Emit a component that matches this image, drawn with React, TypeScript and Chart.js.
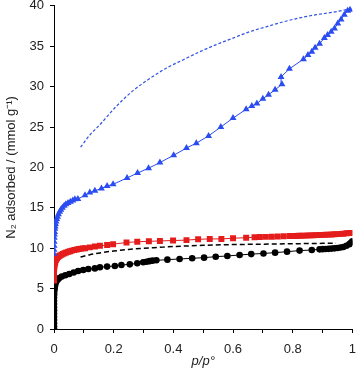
import React, { useEffect, useRef } from "react";
import { Chart, registerables } from "chart.js";

Chart.register(...registerables);

// Black circles series
const blackX = [0, 0, 0, 0, 0, 0, 0, 0, 0, 0, 0, 0.0005, 0.001, 0.002, 0.003, 0.005, 0.008, 0.012, 0.018, 0.026, 0.038, 0.051, 0.066, 0.081, 0.098, 0.115, 0.137, 0.154, 0.178, 0.204, 0.226, 0.254, 0.279, 0.299, 0.31, 0.32, 0.33, 0.343, 0.38, 0.421, 0.463, 0.503, 0.542, 0.581, 0.622, 0.661, 0.702, 0.741, 0.781, 0.823, 0.864, 0.89, 0.9, 0.91, 0.92, 0.93, 0.94, 0.95, 0.96, 0.97, 0.98, 0.99, 0.996, 1.0];
const blackY = [0, 0.3, 0.7, 1.1, 1.5, 1.9, 2.3, 2.7, 3.1, 3.5, 3.9, 4.3, 4.7, 5.0, 5.3, 5.6, 5.9, 6.1, 6.3, 6.5, 6.65, 6.8, 7.0, 7.18, 7.3, 7.43, 7.5, 7.64, 7.72, 7.8, 7.93, 8.0, 8.13, 8.26, 8.33, 8.4, 8.46, 8.5, 8.58, 8.67, 8.75, 8.83, 8.95, 9.04, 9.16, 9.27, 9.35, 9.45, 9.57, 9.7, 9.78, 9.86, 9.88, 9.9, 9.92, 9.95, 9.98, 10.02, 10.08, 10.15, 10.3, 10.5, 10.7, 10.85];

// Red squares series
const redX = [0, 0, 0, 0.0005, 0.001, 0.002, 0.003, 0.004, 0.006, 0.008, 0.01, 0.013, 0.016, 0.02, 0.025, 0.03, 0.035, 0.041, 0.048, 0.054, 0.06, 0.068, 0.076, 0.083, 0.09, 0.097, 0.104, 0.12, 0.137, 0.154, 0.178, 0.198, 0.243, 0.279, 0.318, 0.355, 0.399, 0.444, 0.483, 0.522, 0.561, 0.6, 0.644, 0.672, 0.69, 0.71, 0.73, 0.75, 0.77, 0.79, 0.8, 0.81, 0.82, 0.83, 0.84, 0.85, 0.86, 0.87, 0.88, 0.89, 0.9, 0.91, 0.92, 0.93, 0.94, 0.95, 0.96, 0.97, 0.98, 0.99, 0.998];
const redY = [6.0, 6.5, 7.0, 7.4, 7.7, 7.95, 8.15, 8.3, 8.5, 8.65, 8.78, 8.9, 9.0, 9.1, 9.2, 9.3, 9.38, 9.47, 9.55, 9.62, 9.7, 9.78, 9.85, 9.9, 9.95, 9.98, 10.0, 10.1, 10.2, 10.3, 10.4, 10.5, 10.7, 10.8, 10.85, 10.9, 10.95, 11.0, 11.1, 11.15, 11.15, 11.23, 11.3, 11.36, 11.38, 11.4, 11.42, 11.45, 11.48, 11.5, 11.51, 11.52, 11.53, 11.55, 11.56, 11.58, 11.59, 11.6, 11.62, 11.63, 11.65, 11.66, 11.68, 11.7, 11.72, 11.74, 11.77, 11.8, 11.84, 11.87, 11.9];

// Blue triangles series
const blueX = [0, 0, 0.0003, 0.0006, 0.001, 0.0015, 0.002, 0.003, 0.004, 0.005, 0.007, 0.009, 0.012, 0.015, 0.019, 0.023, 0.028, 0.034, 0.04, 0.047, 0.055, 0.063, 0.07, 0.08, 0.104, 0.12, 0.137, 0.159, 0.178, 0.198, 0.245, 0.28, 0.317, 0.355, 0.401, 0.444, 0.477, 0.518, 0.559, 0.6, 0.644, 0.663, 0.68, 0.7, 0.719, 0.741, 0.764, 0.761, 0.789, 0.836, 0.851, 0.864, 0.875, 0.89, 0.906, 0.917, 0.929, 0.94, 0.951, 0.962, 0.973, 0.984, 0.992];
const blueY = [9.3, 9.8, 10.3, 10.8, 11.3, 11.7, 12.0, 12.4, 12.7, 13.0, 13.3, 13.6, 13.9, 14.2, 14.5, 14.75, 15.0, 15.25, 15.45, 15.6, 15.75, 15.9, 16.06, 16.1, 16.55, 16.9, 17.1, 17.4, 17.7, 17.9, 18.7, 19.3, 19.9, 20.6, 21.5, 22.4, 23.0, 23.9, 25.0, 26.1, 27.2, 27.6, 27.9, 28.5, 29.0, 29.6, 30.3, 31.2, 32.2, 33.4, 33.9, 34.3, 34.8, 35.3, 36.0, 36.4, 36.8, 37.2, 37.8, 38.3, 38.9, 39.4, 39.5];

// Blue dashed curve
const blueDashX = [0.089, 0.12, 0.154, 0.21, 0.265, 0.321, 0.377, 0.432, 0.488, 0.544, 0.6, 0.656, 0.711, 0.767, 0.823, 0.879, 0.934, 0.99];
const blueDashY = [22.5, 24.0, 25.3, 27.6, 29.5, 31.0, 32.3, 33.3, 34.3, 35.2, 36.0, 36.8, 37.4, 38.0, 38.5, 38.9, 39.2, 39.6];

// Black dashed curve
const blackDashX = [0.089, 0.12, 0.16, 0.2, 0.25, 0.3, 0.35, 0.4, 0.5, 0.6, 0.7, 0.8, 0.9, 0.945];
const blackDashY = [8.9, 9.2, 9.45, 9.65, 9.85, 10.0, 10.1, 10.2, 10.35, 10.45, 10.5, 10.55, 10.6, 10.62];

const xTicks = [0, 0.2, 0.4, 0.6, 0.8, 1];
const yTicks = [0, 5, 10, 15, 20, 25, 30, 35, 40];

const pts = (xs: number[], ys: number[]) => xs.map((x, i) => ({ x, y: ys[i] }));

const FONT = "'Liberation Sans', Arial, sans-serif";
const TXT = "#222";

export default function App() {
  const ref = useRef<HTMLCanvasElement | null>(null);

  useEffect(() => {
    document.body.style.margin = "0";
    const ctx = ref.current;
    if (!ctx) return;
    const chart = new Chart(ctx, {
      type: "line",
      data: {
        datasets: [
          {
            data: pts(blueX, blueY),
            borderColor: "#2a4cf0",
            backgroundColor: "#2a4cf0",
            borderWidth: 1,
            pointStyle: "triangle",
            pointRadius: 4,
            pointBorderWidth: 0,
            order: 1,
          },
          {
            data: pts(redX, redY),
            borderColor: "#e51c1c",
            backgroundColor: "#e51c1c",
            borderWidth: 1,
            pointStyle: "rect",
            pointRadius: 4.2,
            pointBorderWidth: 0,
            order: 2,
          },
          {
            data: pts(blackX, blackY),
            borderColor: "#000",
            backgroundColor: "#000",
            borderWidth: 1,
            pointStyle: "circle",
            pointRadius: 3.3,
            pointBorderWidth: 0,
            order: 3,
          },
          {
            data: pts(blueDashX, blueDashY),
            borderColor: "#2f52e6",
            borderWidth: 1.2,
            borderDash: [3, 2],
            pointRadius: 0,
            cubicInterpolationMode: "monotone",
            order: 4,
          },
          {
            data: pts(blackDashX, blackDashY),
            borderColor: "#000",
            borderWidth: 1.5,
            borderDash: [5, 3],
            pointRadius: 0,
            cubicInterpolationMode: "monotone",
            order: 5,
          },
        ],
      },
      options: {
        responsive: false,
        animation: false,
        layout: { padding: 0 },
        plugins: { legend: { display: false }, tooltip: { enabled: false } },
        scales: {
          x: {
            type: "linear",
            min: 0,
            max: 1,
            afterFit: (s: any) => { s.height = 40; },
            border: { color: "#000", width: 1 },
            grid: { drawOnChartArea: false, drawTicks: true, tickLength: 4, tickColor: "#000" },
            ticks: {
              stepSize: 0.1,
              padding: 9,
              color: TXT,
              font: { family: FONT, size: 13 },
              maxRotation: 0,
              autoSkip: false,
              callback: (v: any) => {
                const k = Math.round(Number(v) * 10);
                if (k % 2 !== 0) return "";
                const lab = xTicks.find((t) => Math.round(t * 10) === k);
                return lab === undefined ? "" : String(lab);
              },
            },
            title: {
              display: true,
              text: "p/p°",
              color: TXT,
              font: { family: FONT, size: 13, style: "italic" },
              padding: { top: 0, bottom: 0 },
            },
          },
          y: {
            type: "linear",
            min: 0,
            max: 40,
            afterFit: (s: any) => { s.width = 54; },
            border: { color: "#000", width: 1 },
            grid: { drawOnChartArea: false, drawTicks: true, tickLength: 4, tickColor: "#000" },
            afterBuildTicks: (s: any) => { s.ticks = yTicks.map((v) => ({ value: v })); },
            ticks: {
              padding: 6,
              color: TXT,
              font: { family: FONT, size: 13 },
            },
            title: {
              display: true,
              text: "N₂ adsorbed / (mmol g⁻¹)",
              color: TXT,
              font: { family: FONT, size: 13 },
              padding: { top: 4, bottom: 0 },
            },
          },
        },
      },
    } as any);
    return () => chart.destroy();
  }, []);

  return (
    <div style={{ width: 358, height: 369, overflow: "hidden" }}>
      <canvas ref={ref} width={365} height={377} style={{ display: "block", marginTop: -8 }} />
    </div>
  );
}
